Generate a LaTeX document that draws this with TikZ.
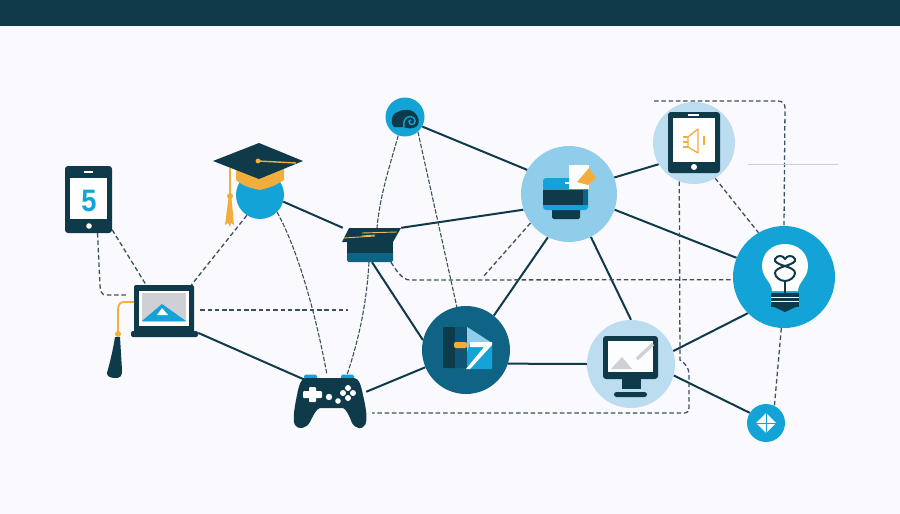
\documentclass[tikz,border=0pt]{standalone}
\usepackage{fontspec}
\setmainfont{Liberation Sans}
\definecolor{dark}{HTML}{0E3A4A}
\definecolor{bluec}{HTML}{14A3D6}
\definecolor{teal2}{HTML}{0F6485}
\definecolor{teal3}{HTML}{0F5472}
\definecolor{lightc}{HTML}{90CDEA}
\definecolor{palec}{HTML}{BBDDEF}
\definecolor{orangec}{HTML}{F2AE3D}
\definecolor{grayc}{HTML}{CFCFD6}
\definecolor{pagec}{HTML}{F9F9FE}
\definecolor{dashc}{HTML}{3B525E}
\pgfdeclarelayer{bg}
\pgfdeclarelayer{edges}
\pgfsetlayers{bg,edges,main}
\tikzset{
  disc/.style={circle,inner sep=0pt,minimum size=#1},
  iconbox/.style={rectangle,inner sep=0pt,draw=none},
  solidlink/.style={draw=dark,line width=2pt},
  dashlink/.style={draw=dashc,line width=1.3pt,dash pattern=on 4.5pt off 2.8pt},
  finelink/.style={draw=dashc,line width=1.1pt,dash pattern=on 4.5pt off 1.6pt},
}
\begin{document}
\begin{tikzpicture}[x=1pt,y=-1pt]
\useasboundingbox (0,0) rectangle (900,514);
\begin{pgfonlayer}{bg}
  \fill[pagec] (0,0) rectangle (900,514);
  \fill[dark] (0,0) rectangle (900,26);
\end{pgfonlayer}

% ---------- nodes ----------
\node[disc=48pt,fill=bluec] (head) at (260,195) {};
\node[disc=39pt,fill=bluec] (top) at (405,117) {};
\node[disc=96pt,fill=lightc] (printer) at (569,194) {};
\node[disc=88pt,fill=teal2] (play) at (466,350) {};
\node[disc=88pt,fill=palec] (monitor) at (631,364) {};
\node[disc=82pt,fill=palec] (tablet) at (694,143) {};
\node[disc=102pt,fill=bluec] (bulb) at (784,277) {};
\node[disc=38pt,fill=bluec] (small) at (766,423) {};
\node[iconbox,fill=dark,rounded corners=3pt,minimum width=47pt,minimum height=67pt] (phone) at (88.5,199.5) {};
\node[iconbox,minimum width=67pt,minimum height=52pt] (laptop) at (164.5,311) {};
\node[iconbox,minimum width=58pt,minimum height=34pt] (book) at (372,245) {};
\node[iconbox,minimum width=72pt,minimum height=53pt] (gamepad) at (330,401.5) {};
\coordinate (lapfree) at (348,310);
\coordinate (printfree) at (483,277);
\coordinate (tabfree) at (654,101);
\coordinate (grayA) at (748,164);
\coordinate (grayB) at (838,164);

% ---------- connectors ----------
\begin{pgfonlayer}{edges}
  \draw[solidlink] (head.-16) -- (book.north west);
  \draw[solidlink] (laptop.-33) -- ([xshift=11pt,yshift=-5pt]gamepad.north west);
  \draw[solidlink] (top.-29) -- (printer.150);
  \draw[solidlink] (book.north east) -- (printer.199);
  \draw[solidlink] (book.south) -- (play.167);
  \draw[solidlink] (gamepad.15) -- (play.203);
  \draw[solidlink] (play.51.5) -- (printer.244.5);
  \draw[solidlink] (play.-18.6) -- (monitor.180);
  \draw[solidlink] (printer.-63) -- (monitor.90);
  \draw[solidlink] (printer.20) -- (tablet.211);
  \draw[solidlink] (printer.-19.6) -- (bulb.158);
  \draw[solidlink] (monitor.17) -- (bulb.225);
  \draw[solidlink] (monitor.-15.6) -- (small.148);

  \draw[dashlink] (phone.-52) -- ([xshift=-18.5pt]laptop.north);
  \draw[dashlink,shorten >=4pt] (phone.-75.8) -- (100,286) .. controls (100.5,292) and (102,295) .. (106,295) -- ([yshift=16pt]laptop.west);
  \draw[dashlink] (head.237) -- ([xshift=27pt]laptop.north);
  \draw[dashlink] ([yshift=1pt,xshift=2pt]laptop.east) -- (lapfree);
  \draw[finelink] (head.-45) .. controls (298,250) and (316,315) .. ([xshift=-3pt]gamepad.north);
  \draw[finelink] ([xshift=-3pt]book.south) .. controls (367,295) and (362,330) .. ([xshift=17pt]gamepad.north);
  \draw[finelink] (top.-110) .. controls (390,165) and (380,195) .. ([xshift=5pt]book.north);
  \draw[finelink] (top.-49) -- (play.102);
  \draw[dashlink] ([xshift=19pt]book.south) .. controls (396,270) and (402,280) .. (410,280) -- (bulb.183);
  \draw[dashlink] (printer.217) -- (printfree);
  \draw[dashlink,shorten >=6pt] (tablet.249) -- (680,360) .. controls (686,364) and (689,368) .. (689,375) -- (689,408) .. controls (689,411) and (688,413) .. (685,413) -- ([yshift=-11.5pt]gamepad.east);
  \draw[dashlink] (tabfree) -- (778,101) .. controls (783,101) and (785,104) .. (785,108) -- (bulb.north);
  \draw[dashlink] (tablet.-59) -- (bulb.120);
  \draw[dashlink] (bulb.-93) -- (small.64.5);
  \draw[grayc,line width=1pt] (grayA) -- (grayB);
\end{pgfonlayer}

% ---------- phone ----------
\fill[white] (70,178) rectangle (107,219);
\fill[white] (84,171) rectangle (93,173);
\fill[white] (89,226) circle (2.8);
\node[text=bluec,font=\bfseries\fontsize{31}{31}\selectfont,xscale=0.88,inner sep=0pt] (five) at (89,200.5) {5};

% ---------- laptop ----------
\fill[dark,rounded corners=2pt] (134,285) rectangle (194,333);
\fill[dark,rounded corners=2pt] (131,331) rectangle (198,337);
\fill[white] (139,291) rectangle (189,326);
\fill[grayc] (142,293) rectangle (186,322);
\fill[bluec] (142,321) -- (162,304) -- (186,321) -- cycle;
\fill[white] (157,315) -- (162,308) -- (168,315) -- cycle;
\draw[orangec,line width=1.8pt] (134,302) -- (124,302) .. controls (120,302) and (118,305) .. (118,310) -- (118,333);
\fill[orangec] (118,334) circle (3);
\fill[dark] (115,337) -- (120,337) -- (122,370) .. controls (122,377) and (120,378) .. (115,378) .. controls (110,378) and (107,376) .. (107,373) .. controls (110,362) and (113,350) .. (115,337) -- cycle;

% ---------- graduation cap ----------
\fill[orangec] (236,165) -- (284,165) -- (284,180) .. controls (275,186) and (268,188) .. (260,190) .. controls (250,188) and (243,186) .. (236,180) -- cycle;
\fill[dark] (213,161) -- (259,143) -- (303,161) -- (259,179) -- cycle;
\draw[orangec,line width=1.4pt] (258,161) -- (296,163);
\fill[orangec] (258,161) circle (2.4);
\draw[orangec,line width=1.4pt] (230,168) -- (230,194);
\fill[orangec] (230,196) circle (3);
\fill[orangec] (228.5,198) -- (231.5,198) -- (234,225) -- (231,223) -- (230,227) -- (228,223) -- (225,225) -- cycle;

% ---------- book ----------
\fill[teal2,rounded corners=1.5pt] (347,250) rectangle (393,262);
\fill[dark] (347,241) rectangle (393,253);
\fill[dark] (349,228) -- (401,228) -- (393,242) -- (342,242) -- cycle;
\draw[orangec!75!grayc,line width=0.9pt] (362,233) -- (397,232);
\draw[orangec!75!grayc,line width=0.9pt] (344,238) -- (375,236);
\draw[orangec!75!grayc,line width=0.9pt] (362,236) -- (375,235);

% ---------- gamepad ----------
\fill[bluec,rounded corners=1.5pt] (304,374.5) rectangle (317,380);
\fill[bluec,rounded corners=1.5pt] (341,374.5) rectangle (354,380);
\fill[dark] (306,378) -- (354,378) .. controls (359,378) and (361,385) .. (363,395) .. controls (366,408) and (368,420) .. (365,425) .. controls (362,430) and (356,429) .. (352,423) .. controls (349,415) and (346,409) .. (343,408) -- (320,408) .. controls (316,409) and (313,416) .. (310,422) .. controls (306,429) and (298,430) .. (295,425) .. controls (292,420) and (295,405) .. (297,395) .. controls (299,385) and (301,378) .. (306,378) -- cycle;
\fill[white,rounded corners=1pt] (303,391) rectangle (322,398);
\fill[white,rounded corners=1pt] (309,387) rectangle (316,402);
\foreach \px/\py/\pr in {329/397/3.2,338/401/2.8,348/388/3,343/393/3,353/393/3,348/398/3}
  \fill[white] (\px,\py) circle (\pr);

% ---------- top disc glyph ----------
\fill[dark] (392,124) .. controls (391,118) and (393,113) .. (398,112) .. controls (402,109) and (410,109) .. (414,112) .. controls (419,116) and (420,123) .. (417,126) .. controls (414,129) and (407,129) .. (404,127) -- (394,127) -- cycle;
\draw[bluec,line width=1.4pt] (404,127) .. controls (402,118) and (410,114) .. (414,118) .. controls (417,122) and (413,126) .. (410,124) .. controls (408,122) and (409,120) .. (411,120);

% ---------- printer glyph ----------
\fill[dark,rounded corners=1.5pt] (552,208) rectangle (580,219);
\fill[bluec,rounded corners=3pt] (543,178) rectangle (588,210);
\fill[dark] (543,190) rectangle (588,205);
\fill[teal2] (583,190) rectangle (588,205);
\fill[white] (569,165) rectangle (589,189);
\fill[orangec] (577,182) -- (589,168) -- (596,178) -- (588,185) -- cycle;
\fill[white] (565,182) rectangle (570,183.5);

% ---------- play glyph ----------
\fill[dark,rounded corners=1pt] (443,327) rectangle (456,368);
\fill[teal3] (455,327) rectangle (467,368);
\fill[bluec] (467,327) -- (492,343) -- (492,369) -- (467,369) -- cycle;
\fill[lightc] (467,327) -- (492,343) -- (470,343) -- (467,352) -- cycle;
\fill[white] (470,342) -- (492,342) -- (492,345) -- (470,369) -- (466,369) -- (484,347) -- (470,347) -- cycle;
\fill[orangec,rounded corners=2pt] (454,342) rectangle (467,348);

% ---------- monitor glyph ----------
\fill[dark] (622,377) rectangle (641,389);
\fill[dark,rounded corners=2.5pt] (614,392) rectangle (647,397);
\fill[dark,rounded corners=3pt] (603,336) rectangle (658,379);
\fill[white!94!palec] (608,341) rectangle (653,372);
\fill[grayc] (611,369) -- (622,357) -- (632,369) -- cycle;
\draw[grayc,line width=3.4pt] (637,359) -- (653,344);

% ---------- tablet glyph ----------
\fill[dark,rounded corners=3pt] (668,112) rectangle (720,173);
\fill[white] (673,118) rectangle (715,162);
\fill[white] (688,113.5) rectangle (699,115.5);
\fill[white] (694,167) circle (3);
\draw[orangec,line width=1.3pt,line join=round] (688,137) -- (698,129) -- (698,153) -- (688,147) -- cycle;
\draw[orangec,line width=1.3pt] (683,137) -- (688,137) (683,142) -- (688,142) (683,147) -- (688,147);
\draw[orangec,line width=1.5pt] (704,136) -- (704,145);

% ---------- bulb glyph ----------
\fill[white] (772,291) .. controls (772,282) and (762,278) .. (762,266) .. controls (762,253) and (772,244) .. (785,244) .. controls (798,244) and (808,253) .. (808,266) .. controls (808,278) and (798,282) .. (798,291) -- cycle;
\fill[dark] (771,293) rectangle (799,307);
\fill[white] (771,296.5) rectangle (799,298);
\fill[white] (771,300.5) rectangle (799,302);
\fill[dark] (772,306) -- (798,306) -- (785,312) -- cycle;
\draw[dark,line width=2pt] (785,266) .. controls (778,264) and (774,262) .. (775,259) .. controls (777,255) and (783,255) .. (785,259) .. controls (787,255) and (793,255) .. (795,259) .. controls (796,262) and (792,264) .. (785,266) .. controls (779,268) and (775,270) .. (775,273) .. controls (775,277) and (780,281) .. (785,281) .. controls (790,281) and (795,277) .. (795,273) .. controls (795,270) and (791,268) .. (785,266) -- cycle;
\draw[dark,line width=1.5pt] (785,281) -- (785,294);

% ---------- small disc glyph ----------
\fill[white!92!palec] (766,413) -- (776,423) -- (766,433) -- (756,423) -- cycle;
\draw[bluec,line width=0.9pt] (766,413) -- (766,433) (756,423) -- (776,423);
\end{tikzpicture}
\end{document}
